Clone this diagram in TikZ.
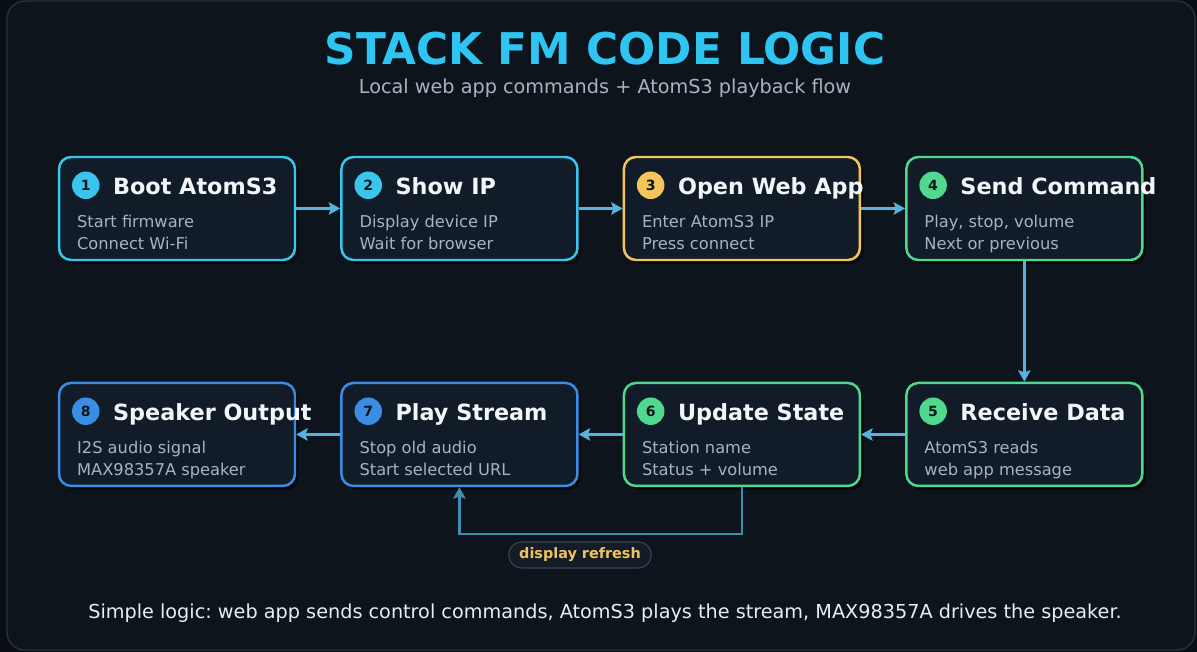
\documentclass[tikz,border=0pt]{standalone}
\usepackage{fontspec}
\setmainfont{DejaVu Sans}
\frenchspacing
\usetikzlibrary{shapes.geometric, arrows.meta, positioning, shadows}
\definecolor{bgout}{HTML}{0A0F15}
\definecolor{bgin}{HTML}{0E141C}
\definecolor{framec}{HTML}{263140}
\definecolor{titlec}{HTML}{2EC5F2}
\definecolor{subc}{HTML}{A9B3BF}
\definecolor{cardfill}{HTML}{121C28}
\definecolor{cyanc}{HTML}{38C6EE}
\definecolor{yellowc}{HTML}{F4C55C}
\definecolor{greenc}{HTML}{4FD88E}
\definecolor{bluec}{HTML}{3A8DE2}
\definecolor{arrowc}{HTML}{58B2DE}
\definecolor{loopc}{HTML}{3E8DAE}
\definecolor{bodyc}{HTML}{A8B3BF}
\definecolor{headc}{HTML}{F3F6F9}
\definecolor{pillfill}{HTML}{141D27}
\definecolor{pilldraw}{HTML}{3A4552}
\definecolor{pilltext}{HTML}{F0C35A}
\definecolor{footc}{HTML}{E9EDF1}
\definecolor{numc}{HTML}{0D141C}
\tikzstyle{card} = [rectangle, rounded corners=0.24cm, minimum width=4.72cm, minimum height=2.06cm, line width=1.4pt, fill=cardfill, drop shadow={shadow xshift=0.07cm, shadow yshift=-0.08cm, fill=black, opacity=0.55}]
\tikzstyle{badge} = [circle, minimum size=0.55cm, inner sep=0pt, text=numc, font=\bfseries\fontsize{8}{9}\selectfont]
\tikzstyle{steptitle} = [anchor=base west, inner sep=0pt, text=headc, font=\bfseries\fontsize{12.7}{15}\selectfont]
\tikzstyle{stepbody} = [anchor=base west, inner sep=0pt, align=left, text=bodyc, font=\fontsize{9.25}{12.47}\selectfont]
\tikzstyle{arrow} = [line width=1.6pt, -{Stealth[length=6.5pt, width=7pt, inset=1.2pt]}, draw=arrowc]
\tikzstyle{pill} = [rectangle, rounded corners=0.26cm, minimum height=0.52cm, inner xsep=0.21cm, line width=0.6pt, draw=pilldraw, fill=pillfill, text=pilltext, font=\bfseries\fontsize{8.2}{10}\selectfont]

\begin{document}
\begin{tikzpicture}[x=0.02cm, y=-0.02cm, node distance=5.65cm]
    \useasboundingbox (0,0) rectangle (1197,652);
    \fill [bgout] (0,0) rectangle (1197,652);
    \draw [framec, fill=bgin, line width=0.8pt, rounded corners=0.36cm] (7,1) rectangle (1195,650);

    % heading
    \node (title) [anchor=base, text=titlec, font=\bfseries\fontsize{24.9}{28}\selectfont] at (605,65) {STACK FM CODE LOGIC};
    \node (subtitle) [anchor=base, text=subc, font=\fontsize{10.95}{13}\selectfont] at (605,94) {Local web app commands + AtomS3 playback flow};

    % cards
    \node (boot) [card, draw=cyanc] at (177,208.5) {};
    \node (showip) [card, draw=cyanc, right of=boot] {};
    \node (webapp) [card, draw=yellowc, right of=showip] {};
    \node (send) [card, draw=greenc, right of=webapp] {};
    \node (recv) [card, draw=greenc, node distance=4.52cm, below of=send] {};
    \node (update) [card, draw=greenc, left of=recv] {};
    \node (play) [card, draw=bluec, left of=update] {};
    \node (speaker) [card, draw=bluec, left of=play] {};

    % card texts
    \node (n1) [badge, fill=cyanc] at ([shift={(28,29.5)}]boot.north west) {1};
    \node (t1) [steptitle] at ([shift={(55,39)}]boot.north west) {Boot AtomS3};
    \node (b1) [stepbody] at ([shift={(19,93.5)}]boot.north west) {Start firmware\\Connect Wi-Fi};

    \node (n2) [badge, fill=cyanc] at ([shift={(28,29.5)}]showip.north west) {2};
    \node (t2) [steptitle] at ([shift={(55,39)}]showip.north west) {Show IP};
    \node (b2) [stepbody] at ([shift={(19,93.5)}]showip.north west) {Display device IP\\Wait for browser};

    \node (n3) [badge, fill=yellowc] at ([shift={(28,29.5)}]webapp.north west) {3};
    \node (t3) [steptitle] at ([shift={(55,39)}]webapp.north west) {Open Web App};
    \node (b3) [stepbody] at ([shift={(19,93.5)}]webapp.north west) {Enter AtomS3 IP\\Press connect};

    \node (n4) [badge, fill=greenc] at ([shift={(28,29.5)}]send.north west) {4};
    \node (t4) [steptitle] at ([shift={(55,39)}]send.north west) {Send Command};
    \node (b4) [stepbody] at ([shift={(19,93.5)}]send.north west) {Play, stop, volume\\Next or previous};

    \node (n5) [badge, fill=greenc] at ([shift={(28,29.5)}]recv.north west) {5};
    \node (t5) [steptitle] at ([shift={(55,39)}]recv.north west) {Receive Data};
    \node (b5) [stepbody] at ([shift={(19,93.5)}]recv.north west) {AtomS3 reads\\web app message};

    \node (n6) [badge, fill=greenc] at ([shift={(28,29.5)}]update.north west) {6};
    \node (t6) [steptitle] at ([shift={(55,39)}]update.north west) {Update State};
    \node (b6) [stepbody] at ([shift={(19,93.5)}]update.north west) {Station name\\Status + volume};

    \node (n7) [badge, fill=bluec] at ([shift={(28,29.5)}]play.north west) {7};
    \node (t7) [steptitle] at ([shift={(55,39)}]play.north west) {Play Stream};
    \node (b7) [stepbody] at ([shift={(19,93.5)}]play.north west) {Stop old audio\\Start selected URL};

    \node (n8) [badge, fill=bluec] at ([shift={(28,29.5)}]speaker.north west) {8};
    \node (t8) [steptitle] at ([shift={(55,39)}]speaker.north west) {Speaker Output};
    \node (b8) [stepbody] at ([shift={(19,93.5)}]speaker.north west) {I2S audio signal\\MAX98357A speaker};

    % flow
    \draw [arrow] (boot) -- (showip);
    \draw [arrow] (showip) -- (webapp);
    \draw [arrow] (webapp) -- (send);
    \draw [arrow] (send) -- (recv);
    \draw [arrow] (recv) -- (update);
    \draw [arrow] (update) -- (play);
    \draw [arrow] (play) -- (speaker);
    \draw [arrow, draw=loopc, line width=1.4pt] (update.south) -- ++(0,47) -| (play.south);

    \node (refresh) [pill] at (580,555) {display refresh};

    \node (footer) [anchor=base, text=footc, font=\fontsize{10.95}{13}\selectfont] at (605,618) {Simple logic: web app sends control commands, AtomS3 plays the stream, MAX98357A drives the speaker.};
\end{tikzpicture}
\end{document}
